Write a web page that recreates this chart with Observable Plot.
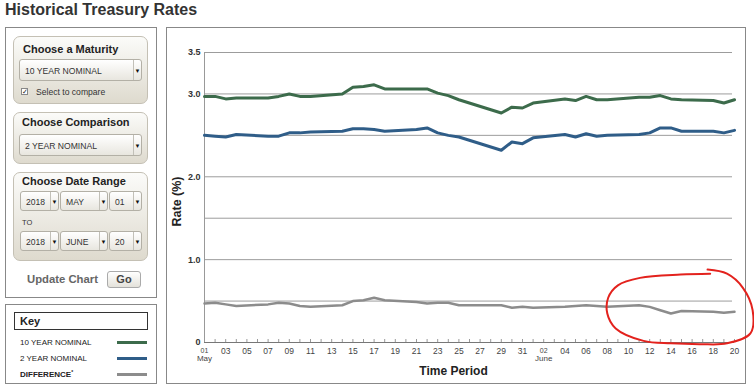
<!DOCTYPE html>
<html>
<head>
<meta charset="utf-8">
<script src="https://cdn.jsdelivr.net/npm/d3@7"></script>
<script src="https://cdn.jsdelivr.net/npm/@observablehq/plot@0.6"></script>
<style>
  html, body { margin: 0; padding: 0; background: #fff; }
  body { width: 754px; height: 391px; position: relative; overflow: hidden;
         font-family: "Liberation Sans", Arial, sans-serif; color: #333; }
  .abs { position: absolute; box-sizing: border-box; }
  .title { left: 5px; top: 0; font-size: 16px; line-height: 19px; font-weight: bold; color: #333; white-space: nowrap; }
  .box { border: 1px solid #888; background: #fff; }
  .panel { border: 1px solid #c4c0b4; border-radius: 7px;
           background: linear-gradient(#fbfbf9, #dedace); }
  .ptitle { font-size: 11px; font-weight: bold; color: #222; white-space: nowrap; }
  .sel { border: 1px solid #b3b0a6; border-radius: 3px; background: linear-gradient(#ffffff, #e8e6df);
         font-size: 8.6px; color: #333; padding-left: 5px; white-space: nowrap; overflow: hidden; }
  .sel .arr { position: absolute; top: 0; bottom: 0; right: 0; width: 7px; border-left: 1px solid #c2c0b8;
              font-size: 6px; line-height: inherit; text-align: center; color: #111; }
  .small { font-size: 8.6px; color: #333; white-space: nowrap; }
  .keyrow { font-size: 8px; color: #222; white-space: nowrap; }
  .keyline { height: 3px; }
</style>
</head>
<body>
<div class="abs title">Historical Treasury Rates</div>

<!-- left control panel -->
<div class="abs box" style="left:5px;top:27px;width:152px;height:271px;"></div>

<div class="abs panel" style="left:13px;top:36px;width:135px;height:68px;"></div>
<div class="abs ptitle" style="left:23px;top:43px;">Choose a Maturity</div>
<div class="abs sel" id="s1" style="left:19px;top:59px;width:123px;height:22px;line-height:22px;"></div>
<div class="abs" style="left:21px;top:88px;width:7px;height:7px;border:1px solid #888;background:#fff;font-size:7px;line-height:6px;text-align:center;color:#222;">✓</div>
<div class="abs small" style="left:36px;top:87px;font-size:8.6px;line-height:10px;">Select to compare</div>

<div class="abs panel" style="left:13px;top:112px;width:135px;height:52px;"></div>
<div class="abs ptitle" style="left:22px;top:116px;">Choose Comparison</div>
<div class="abs sel" id="s2" style="left:19px;top:134px;width:123px;height:22px;line-height:22px;"></div>

<div class="abs panel" style="left:13px;top:172px;width:135px;height:89px;"></div>
<div class="abs ptitle" style="left:22px;top:175px;">Choose Date Range</div>
<div class="abs sel" id="d1" style="left:20px;top:191px;width:39px;height:20px;line-height:20px;"></div>
<div class="abs sel" id="d2" style="left:60px;top:191px;width:48px;height:20px;line-height:20px;"></div>
<div class="abs sel" id="d3" style="left:109px;top:191px;width:33px;height:20px;line-height:20px;"></div>
<div class="abs small" style="left:22px;top:218px;font-size:7.5px;line-height:9px;">TO</div>
<div class="abs sel" id="d4" style="left:20px;top:231px;width:39px;height:20px;line-height:20px;"></div>
<div class="abs sel" id="d5" style="left:60px;top:231px;width:48px;height:20px;line-height:20px;"></div>
<div class="abs sel" id="d6" style="left:109px;top:231px;width:33px;height:20px;line-height:20px;"></div>

<div class="abs" style="left:27px;top:273px;font-size:11.3px;line-height:13px;font-weight:bold;color:#666;white-space:nowrap;">Update Chart</div>
<div class="abs" style="left:107px;top:271px;width:34px;height:17px;border:1px solid #aaa;border-radius:3px;background:linear-gradient(#fff,#e4e2da);font-size:11px;line-height:15px;font-weight:bold;color:#444;text-align:center;">Go</div>

<!-- key -->
<div class="abs box" style="left:5px;top:304px;width:152px;height:80px;"></div>
<div class="abs" style="left:14px;top:312px;width:134px;height:18px;border:1px solid #333;font-size:11px;line-height:16px;font-weight:bold;color:#222;padding-left:5px;">Key</div>
<div class="abs keyrow" style="left:20px;top:338px;line-height:10px;" id="k1"></div>
<div class="abs keyline" style="left:117px;top:341px;width:30px;" id="kl1"></div>
<div class="abs keyrow" style="left:20px;top:354px;line-height:10px;" id="k2"></div>
<div class="abs keyline" style="left:117px;top:357px;width:30px;" id="kl2"></div>
<div class="abs keyrow" style="left:20px;top:370px;line-height:10px;font-weight:bold;" id="k3"></div>
<div class="abs keyline" style="left:117px;top:373px;width:30px;" id="kl3"></div>

<!-- chart box -->
<div class="abs box" style="left:166px;top:27px;width:580px;height:357px;"></div>
<div class="abs" id="chart" style="left:166px;top:27px;width:580px;height:357px;"></div>

<script>
// ---------------- data ----------------
const dates = [
  "2018-05-01","2018-05-02","2018-05-03","2018-05-04","2018-05-07","2018-05-08","2018-05-09","2018-05-10","2018-05-11",
  "2018-05-14","2018-05-15","2018-05-16","2018-05-17","2018-05-18","2018-05-21","2018-05-22","2018-05-23","2018-05-24",
  "2018-05-25","2018-05-29","2018-05-30","2018-05-31","2018-06-01","2018-06-04","2018-06-05","2018-06-06","2018-06-07",
  "2018-06-08","2018-06-11","2018-06-12","2018-06-13","2018-06-14","2018-06-15","2018-06-18","2018-06-19","2018-06-20"
];
const tenYear = [
  2.97, 2.97, 2.94, 2.95, 2.95, 2.97, 3.00, 2.97, 2.97,
  3.00, 3.08, 3.09, 3.11, 3.06, 3.06, 3.06, 3.01, 2.98,
  2.93, 2.77, 2.84, 2.83, 2.89, 2.94, 2.92, 2.97, 2.93,
  2.93, 2.96, 2.96, 2.98, 2.94, 2.93, 2.92, 2.89, 2.93
];
const twoYear = [
  2.50, 2.49, 2.48, 2.51, 2.49, 2.49, 2.53, 2.53, 2.54,
  2.55, 2.58, 2.58, 2.57, 2.55, 2.57, 2.59, 2.53, 2.50,
  2.48, 2.32, 2.42, 2.40, 2.47, 2.51, 2.48, 2.52, 2.49,
  2.50, 2.51, 2.53, 2.59, 2.59, 2.55, 2.55, 2.53, 2.56
];
const difference = [
  0.47, 0.48, 0.46, 0.44, 0.46, 0.48, 0.47, 0.44, 0.43,
  0.45, 0.50, 0.51, 0.54, 0.51, 0.49, 0.47, 0.48, 0.48,
  0.45, 0.45, 0.42, 0.43, 0.42, 0.43, 0.44, 0.45, 0.44,
  0.43, 0.45, 0.43, 0.39, 0.35, 0.38, 0.37, 0.36, 0.37
];
const seriesNames = ["10 YEAR NOMINAL", "2 YEAR NOMINAL", "DIFFERENCE"];
const seriesColors = ["#3c6b4b", "#2f5d88", "#8c8c8c"];

const xDomain = ["2018-05-01", "2018-06-20"];
const xTickDates = [
  "2018-05-01","2018-05-03","2018-05-05","2018-05-07","2018-05-09","2018-05-11","2018-05-13","2018-05-15","2018-05-17",
  "2018-05-19","2018-05-21","2018-05-23","2018-05-25","2018-05-27","2018-05-29","2018-05-31","2018-06-02","2018-06-04",
  "2018-06-06","2018-06-08","2018-06-10","2018-06-12","2018-06-14","2018-06-16","2018-06-18","2018-06-20"
];
const xTickLabels = [
  "01","03","05","07","09","11","13","15","17","19","21","23","25","27","29","31",
  "02","04","06","08","10","12","14","16","18","20"
];
const monthTickDates = ["2018-05-01", "2018-06-02"];
const monthTickLabels = ["May", "June"];
const yDomain = [0, 3.5];
const yGridValues = [0.5, 1.0, 1.5, 2.0, 2.5, 3.0, 3.5];
const yTickValues = [0, 1.0, 2.0, 3.0, 3.5];
const yTickLabels = ["0", "1.0", "2.0", "3.0", "3.5"];

// hand-drawn red annotation loop (date, rate)
const annotationDates = [
  "2018-06-17T17:00Z","2018-06-14T22:00Z","2018-06-11T02:00Z","2018-06-09T00:00Z","2018-06-08T02:00Z",
  "2018-06-08T00:00Z","2018-06-08T19:00Z","2018-06-11T10:00Z","2018-06-14T00:00Z","2018-06-16T19:00Z",
  "2018-06-19T07:00Z","2018-06-21T12:00Z","2018-06-21T17:00Z","2018-06-20T19:00Z","2018-06-19T07:00Z",
  "2018-06-17T11:00Z"
];
const annotationRates = [
  0.83, 0.82, 0.78, 0.69, 0.54,
  0.35, 0.17, 0.02, -0.01, -0.02,
  -0.01, 0.11, 0.39, 0.66, 0.83,
  0.88
];

// ---------------- left panel texts ----------------
function sel(id, text) {
  const el = document.getElementById(id);
  el.innerHTML = text + '<span class="arr">▼</span>';
}
sel("s1", "10 YEAR NOMINAL");
sel("s2", "2 YEAR NOMINAL");
sel("d1", "2018"); sel("d2", "MAY"); sel("d3", "01");
sel("d4", "2018"); sel("d5", "JUNE"); sel("d6", "20");
document.getElementById("k1").textContent = seriesNames[0];
document.getElementById("k2").textContent = seriesNames[1];
document.getElementById("k3").innerHTML = seriesNames[2] + '<span style="font-size:5px;vertical-align:3px;line-height:0">*</span>';
document.getElementById("kl1").style.background = seriesColors[0];
document.getElementById("kl2").style.background = seriesColors[1];
document.getElementById("kl3").style.background = seriesColors[2];

// ---------------- chart ----------------
const parse = d3.utcParse("%Y-%m-%d");
const rows = dates.map((d, i) => ({date: parse(d), ten: tenYear[i], two: twoYear[i], diff: difference[i]}));
const x0 = parse(xDomain[0]), x1 = parse(xDomain[1]);
const minorTicks = d3.utcDay.range(x0, d3.utcDay.offset(x1, 1));
const tickDates = xTickDates.map(parse);
const tickLabelOf = new Map(tickDates.map((d, i) => [+d, xTickLabels[i]]));
const monthDates = monthTickDates.map(parse);
const monthLabelOf = new Map(monthDates.map((d, i) => [+d, monthTickLabels[i]]));
const regularTicks = tickDates.filter(d => !monthLabelOf.has(+d));
const annotation = annotationDates.map((d, i) => ({date: new Date(d), v: annotationRates[i]}));
const yLabelOf = new Map(yTickValues.map((v, i) => [v, yTickLabels[i]]));

const chart = Plot.plot({
  width: 580,
  height: 357,
  marginLeft: 38,
  marginRight: 12,
  marginTop: 25,
  marginBottom: 42,
  x: {type: "utc", domain: [x0, x1]},
  y: {domain: yDomain},
  style: {fontFamily: "'Liberation Sans', Arial, sans-serif", color: "#333", background: "transparent", overflow: "visible"},
  marks: [
    Plot.ruleY(yGridValues, {stroke: "#9c9c9c", strokeWidth: 1, insetRight: 2}),
    Plot.ruleY([0], {stroke: "#777", strokeWidth: 1}),
    Plot.ruleX([x0], {stroke: "#999", strokeWidth: 1}),
    Plot.ruleX(minorTicks, {x: d => d, insetTop: 287, stroke: "#999", strokeWidth: 1}),
    Plot.line(rows, {x: "date", y: "diff", stroke: seriesColors[2], strokeWidth: 2.5}),
    Plot.line(rows, {x: "date", y: "two", stroke: seriesColors[1], strokeWidth: 3}),
    Plot.line(rows, {x: "date", y: "ten", stroke: seriesColors[0], strokeWidth: 3}),
    Plot.axisY(yTickValues, {tickSize: 0, tickPadding: 4, tickFormat: v => yLabelOf.get(v), fontSize: 9, fontWeight: "bold", label: null}),
    Plot.axisX(regularTicks, {tickSize: 0, tickPadding: 5, tickFormat: d => tickLabelOf.get(+d), fontSize: 8.5, fill: "#444", label: null}),
    Plot.axisX(monthDates, {tickSize: 0, tickPadding: 6, tickFormat: d => tickLabelOf.get(+d), fontSize: 7, fill: "#444", label: null}),
    Plot.axisX(monthDates, {tickSize: 0, tickPadding: 13, tickFormat: d => monthLabelOf.get(+d), fontSize: 8, fill: "#444", label: null}),
    Plot.text(["Rate (%)"], {text: d => d, frameAnchor: "left", textAnchor: "middle", dx: -28, dy: 4, rotate: -90, fontSize: 12.5, fontWeight: "bold", fill: "#222"}),
    Plot.text(["Time Period"], {text: d => d, frameAnchor: "bottom", dx: -16, dy: 32, fontSize: 12, fontWeight: "bold", fill: "#222"}),
    Plot.line(annotation, {x: "date", y: "v", curve: "catmull-rom", stroke: "#e3221d", strokeWidth: 2, clip: false})
  ]
});
document.getElementById("chart").appendChild(chart);
</script>
</body>
</html>
